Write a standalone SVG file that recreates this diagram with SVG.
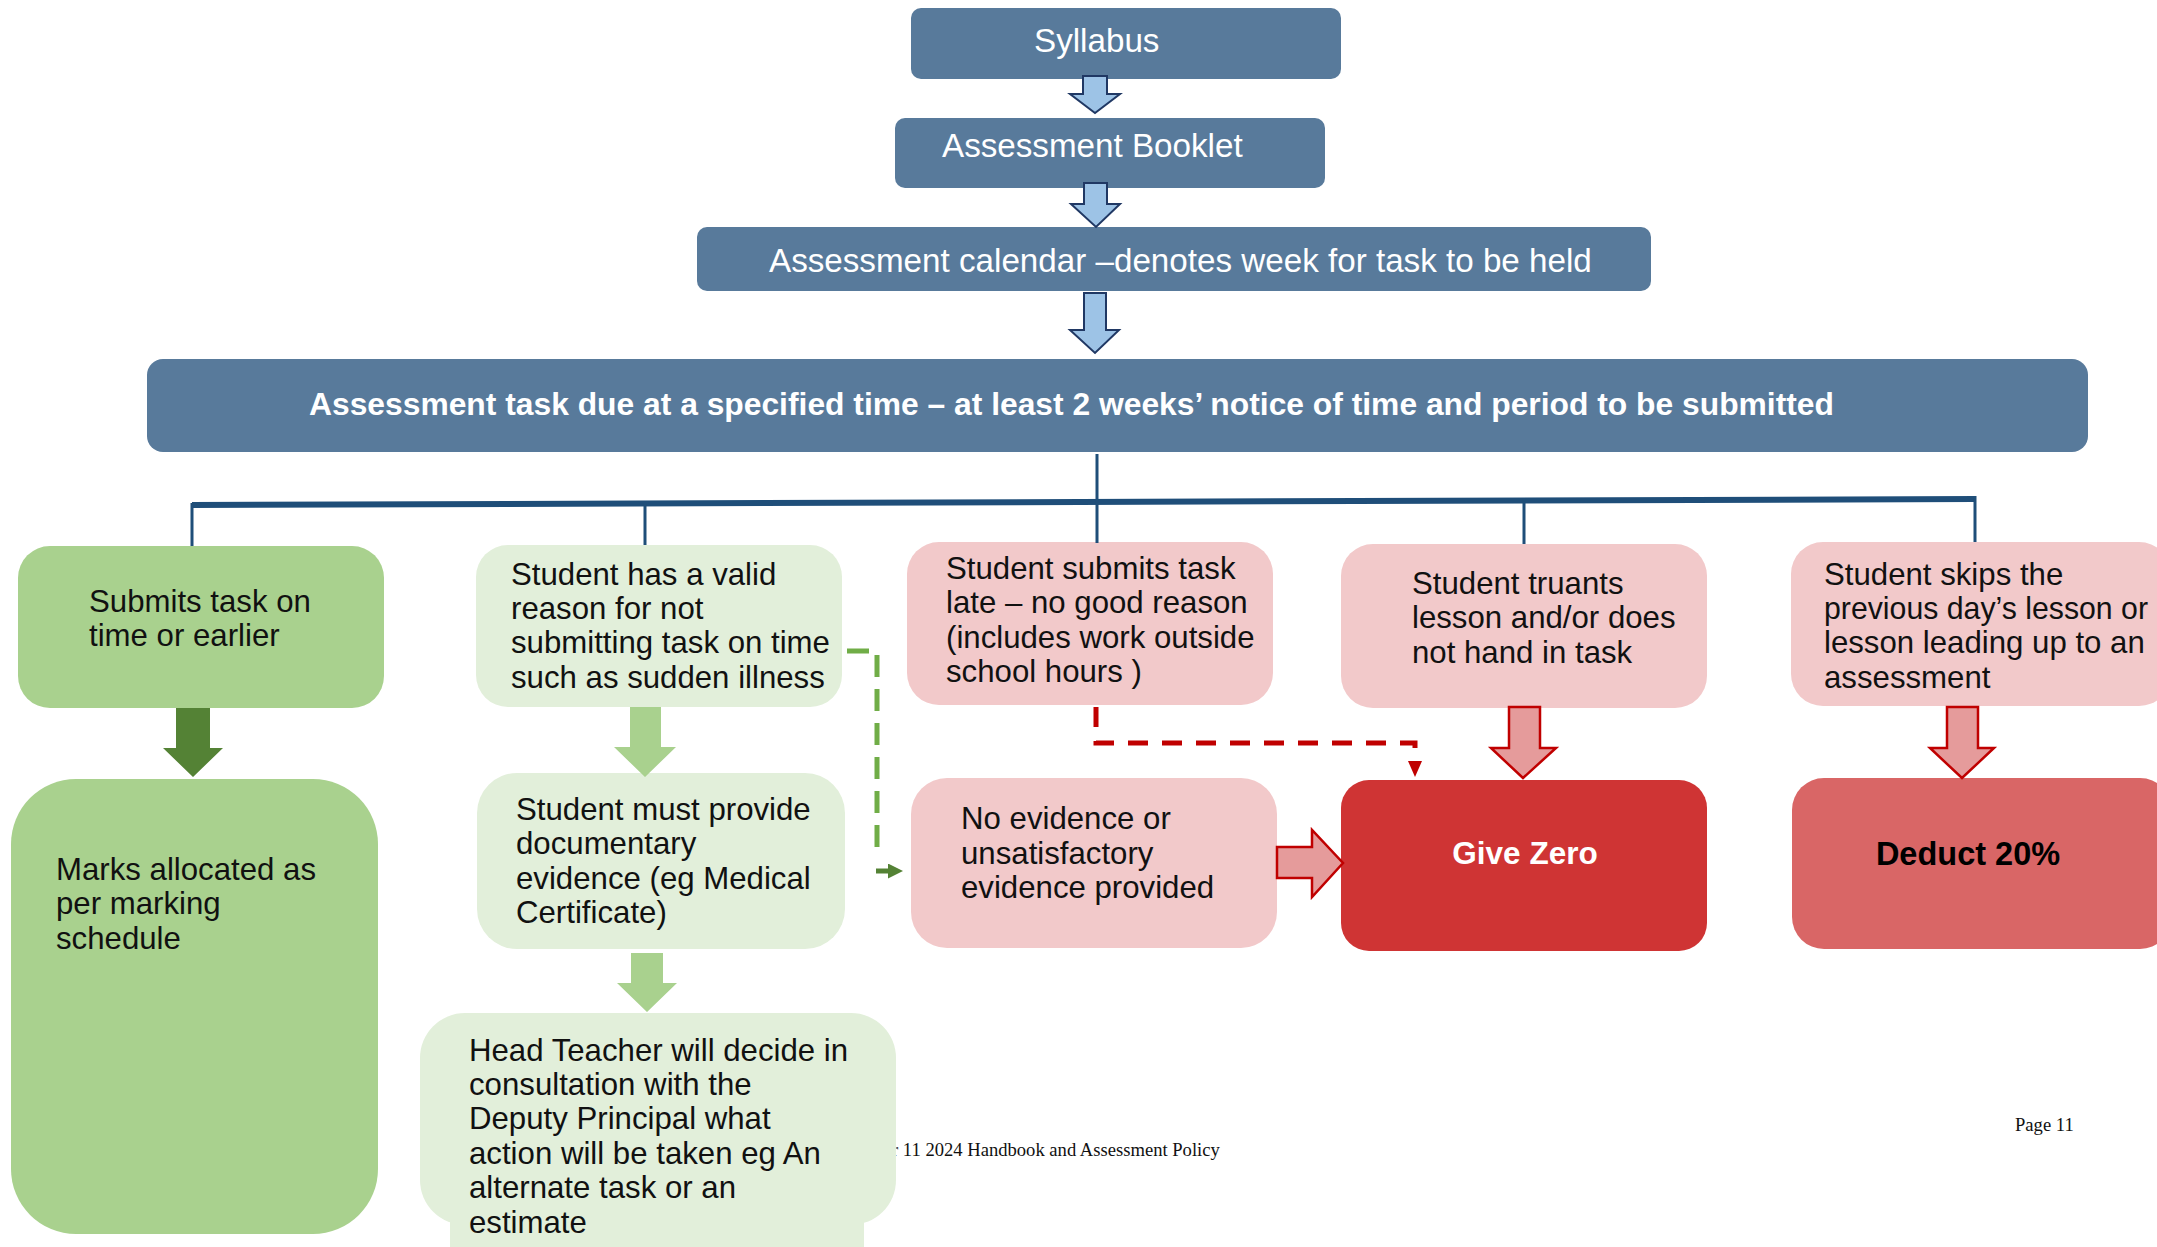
<svg xmlns="http://www.w3.org/2000/svg" width="2157" height="1247" viewBox="0 0 2157 1247">
<style>
.top{fill:#587A9B}
.tt{font-family:"Liberation Sans",Arial,sans-serif;font-size:33.2px;fill:#fff}
.tb{font-family:"Liberation Sans",Arial,sans-serif;font-size:31.8px;font-weight:bold;fill:#fff}
.bt{font-family:"Liberation Sans",Arial,sans-serif;font-size:31.2px;fill:#111}
.g1{fill:#A9D18E}
.g2{fill:#E2EFDA}
.pk{fill:#F2C9CA}
.barr{fill:#9DC3E6;stroke:#203864;stroke-width:2}
.rarr{fill:#E59B9B;stroke:#C00000;stroke-width:2.5}
.tree{stroke:#1F4E79;stroke-width:3;fill:none}
.foot{font-family:"Liberation Serif","Times New Roman",serif;font-size:18.6px;fill:#111}
</style>
<defs>
<marker id="gh" viewBox="0 0 15 15" refX="0" refY="7.5" markerWidth="15" markerHeight="15" markerUnits="userSpaceOnUse" orient="auto"><path d="M0,0 L15,7.5 L0,15 z" fill="#548235"/></marker>
<marker id="rh" viewBox="0 0 16 14" refX="0" refY="7" markerWidth="16" markerHeight="14" markerUnits="userSpaceOnUse" orient="auto"><path d="M0,0 L16,7 L0,14 z" fill="#C00000"/></marker>
</defs>
<rect width="2157" height="1247" fill="#fff"/>

<text class="foot" x="892" y="1156">r 11 2024 Handbook and Assessment Policy</text>
<text class="foot" x="2015" y="1131">Page 11</text>

<g id="syllabus"><rect class="top" x="911" y="8" width="430" height="71" rx="10"/><text class="tt" x="1034" y="52">Syllabus</text></g>
<g id="booklet"><rect class="top" x="895" y="118" width="430" height="70" rx="10"/><text class="tt" x="942" y="157">Assessment Booklet</text></g>
<g id="calendar"><rect class="top" x="697" y="227" width="954" height="64" rx="10"/><text class="tt" x="769" y="272">Assessment calendar –denotes week for task to be held</text></g>
<g id="task"><rect class="top" x="147" y="359" width="1941" height="93" rx="16"/><text class="tb" x="309" y="415">Assessment task due at a specified time – at least 2 weeks’ notice of time and period to be submitted</text></g>

<g id="ontime"><rect class="g1" x="18" y="546" width="366" height="162" rx="32"/><text class="bt" x="89" y="612">Submits task on</text><text class="bt" x="89" y="646">time or earlier</text></g>
<g id="valid"><rect class="g2" x="476" y="545" width="366" height="162" rx="32"/><text class="bt" x="511" y="585">Student has a valid</text><text class="bt" x="511" y="619">reason for not</text><text class="bt" x="511" y="653">submitting task on time</text><text class="bt" x="511" y="688">such as sudden illness</text></g>
<g id="late"><rect class="pk" x="907" y="542" width="366" height="163" rx="32"/><text class="bt" x="946" y="579">Student submits task</text><text class="bt" x="946" y="613">late – no good reason</text><text class="bt" x="946" y="648">(includes work outside</text><text class="bt" x="946" y="682">school hours )</text></g>
<g id="truants"><rect class="pk" x="1341" y="544" width="366" height="164" rx="32"/><text class="bt" x="1412" y="594">Student truants</text><text class="bt" x="1412" y="628">lesson and/or does</text><text class="bt" x="1412" y="663">not hand in task</text></g>
<g id="skips"><rect class="pk" x="1791" y="542" width="380" height="164" rx="32"/><text class="bt" x="1824" y="585">Student skips the</text><text class="bt" x="1824" y="619" textLength="324" lengthAdjust="spacingAndGlyphs">previous day’s lesson or</text><text class="bt" x="1824" y="653">lesson leading up to an</text><text class="bt" x="1824" y="688">assessment</text></g>

<g id="marks"><rect class="g1" x="11" y="779" width="367" height="455" rx="65"/><text class="bt" x="56" y="880">Marks allocated as</text><text class="bt" x="56" y="914">per marking</text><text class="bt" x="56" y="949">schedule</text></g>
<g id="evidence"><rect class="g2" x="477" y="773" width="368" height="176" rx="40"/><text class="bt" x="516" y="820">Student must provide</text><text class="bt" x="516" y="854">documentary</text><text class="bt" x="516" y="889">evidence (eg Medical</text><text class="bt" x="516" y="923">Certificate)</text></g>
<g id="noevidence"><rect class="pk" x="911" y="778" width="366" height="170" rx="36"/><text class="bt" x="961" y="829">No evidence or</text><text class="bt" x="961" y="864">unsatisfactory</text><text class="bt" x="961" y="898">evidence provided</text></g>
<g id="zero"><rect x="1341" y="780" width="366" height="171" rx="28" fill="#CF3434"/><text x="1525" y="864" text-anchor="middle" style="font-family:'Liberation Sans',Arial,sans-serif;font-size:31.5px;font-weight:bold;fill:#fff">Give Zero</text></g>
<g id="deduct"><rect x="1792" y="778" width="380" height="171" rx="32" fill="#D96666"/><text x="1968" y="865" text-anchor="middle" style="font-family:'Liberation Sans',Arial,sans-serif;font-size:32.5px;font-weight:bold;fill:#000">Deduct 20%</text></g>
<g id="headteacher"><rect class="g2" x="420" y="1013" width="476" height="212" rx="45"/><rect class="g2" x="450" y="1190" width="414" height="57"/><text class="bt" x="469" y="1061">Head Teacher will decide in</text><text class="bt" x="469" y="1095">consultation with the</text><text class="bt" x="469" y="1129">Deputy Principal what</text><text class="bt" x="469" y="1164">action will be taken eg An</text><text class="bt" x="469" y="1198">alternate task or an</text><text class="bt" x="469" y="1233">estimate</text></g>

<g id="connectors">
<polygon class="barr" points="1083,76 1107,76 1107,94 1120,94 1095,113 1070,94 1083,94"/>
<polygon class="barr" points="1084,183 1107,183 1107,204 1120,204 1096,227 1071,204 1084,204"/>
<polygon class="barr" points="1084,293 1106,293 1106,330 1119,330 1095,353 1070,330 1084,330"/>
<line x1="192" y1="505" x2="1975" y2="499" stroke="#1F4E79" stroke-width="6"/>
<line class="tree" x1="1097" y1="454" x2="1097" y2="543"/>
<line class="tree" x1="192" y1="503" x2="192" y2="546"/>
<line class="tree" x1="645" y1="503" x2="645" y2="545"/>
<line class="tree" x1="1524" y1="499" x2="1524" y2="544"/>
<line class="tree" x1="1975" y1="496" x2="1975" y2="542"/>
<polygon fill="#548235" points="176,708 210,708 210,748 223,748 193,777 163,748 176,748"/>
<polygon fill="#A9D18E" points="630,707 661,707 661,747 676,747 645,777 614,747 630,747"/>
<polygon fill="#A9D18E" points="631,953 663,953 663,983 677,983 647,1012 617,983 631,983"/>
<polygon class="rarr" points="1509,707 1540,707 1540,748 1556,748 1523,778 1491,748 1509,748"/>
<polygon class="rarr" points="1947,707 1978,707 1978,748 1994,748 1962,778 1930,748 1947,748"/>
<polygon class="rarr" points="1277,847 1312,847 1312,830 1343,863 1312,897 1312,878 1277,878"/>
<path d="M847,651 H877 V854" fill="none" stroke="#70AD47" stroke-width="5" stroke-dasharray="22 12" stroke-dashoffset="0"/>
<path d="M876,871 H888" fill="none" stroke="#548235" stroke-width="5" marker-end="url(#gh)"/>
<path d="M1096,707 V743 H1415 V761" fill="none" stroke="#C00000" stroke-width="5" stroke-dasharray="20 14" marker-end="url(#rh)"/>
</g>
</svg>
